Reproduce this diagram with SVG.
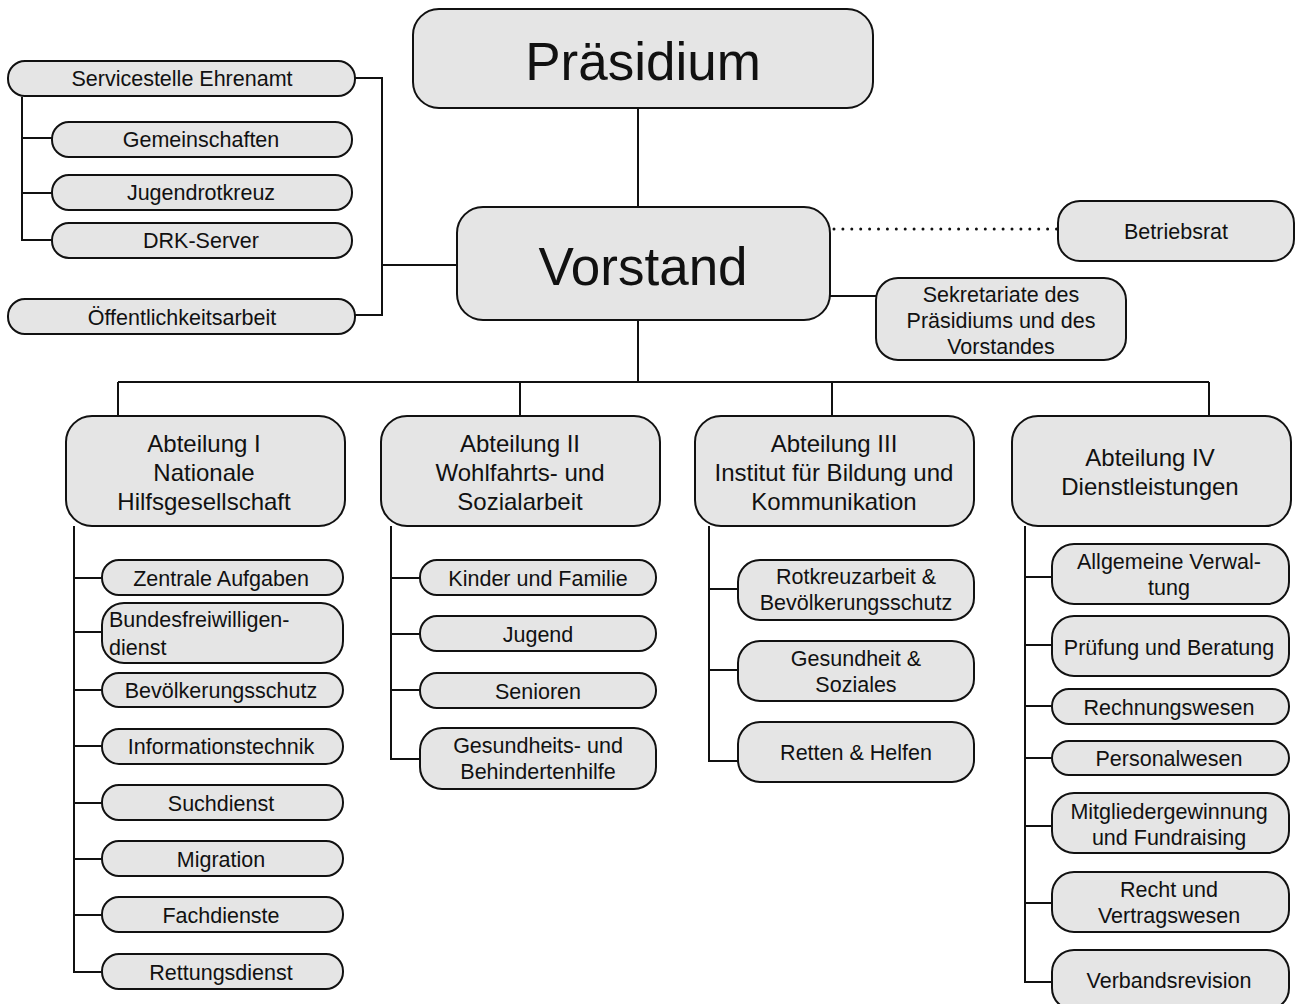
<svg xmlns="http://www.w3.org/2000/svg" width="1295" height="1004" viewBox="0 0 1295 1004">
<style>
.b{fill:#e5e5e5;stroke:#111;stroke-width:2}
.t{font-family:"Liberation Sans",Arial,sans-serif;font-size:21.5px;fill:#111;text-anchor:middle}
.m{font-size:24px}
.h{font-size:53px}
.c{fill:none;stroke:#111;stroke-width:2}
.d{fill:none;stroke:#111;stroke-width:3;stroke-dasharray:0 8.9;stroke-linecap:round}
</style>
<rect width="1295" height="1004" fill="#fff"/>
<g id="connectors">
<path class="c" d="M638 108V207M638 320V382M118 382H1209M118 382V416M520 382V416M832 382V416M1209 382V416"/>
<path class="d" d="M834 229H1058"/>
<path class="c" d="M830 296H876"/>
<path class="c" d="M355 78H382V315H355M382 265H457"/>
<path class="c" d="M22 97V240H52M22 138H52M22 193H52"/>
<path class="c" d="M74 526V972H102M74 578H102M74 632H102M74 690H102M74 746H102M74 803H102M74 859H102M74 915H102"/>
<path class="c" d="M391 526V759H420M391 578H420M391 634H420M391 690H420"/>
<path class="c" d="M709 526V761H738M709 589H738M709 670H738"/>
<path class="c" d="M1025 526V982H1052M1025 577H1052M1025 645H1052M1025 706H1052M1025 758H1052M1025 826H1052M1025 903H1052"/>
</g>
<g id="praesidium"><rect class="b" x="413" y="9" width="460" height="99" rx="26"/><text class="t h" x="643" y="80">Präsidium</text></g>
<g id="vorstand"><rect class="b" x="457" y="207" width="373" height="113" rx="26"/><text class="t h" x="643" y="285">Vorstand</text></g>
<g id="betriebsrat"><rect class="b" x="1058" y="201" width="236" height="60" rx="22"/><text class="t" x="1176" y="239">Betriebsrat</text></g>
<g id="sekretariate"><rect class="b" x="876" y="278" width="250" height="82" rx="22"/><text class="t" x="1001" y="302">Sekretariate des</text><text class="t" x="1001" y="328">Präsidiums und des</text><text class="t" x="1001" y="354">Vorstandes</text></g>
<g id="servicestelle"><rect class="b" x="8" y="61" width="347" height="35" rx="17"/><text class="t" x="182" y="86">Servicestelle Ehrenamt</text></g>
<g id="gemeinschaften"><rect class="b" x="52" y="122" width="300" height="35" rx="17"/><text class="t" x="201" y="147">Gemeinschaften</text></g>
<g id="jugendrotkreuz"><rect class="b" x="52" y="175" width="300" height="35" rx="17"/><text class="t" x="201" y="200">Jugendrotkreuz</text></g>
<g id="drkserver"><rect class="b" x="52" y="223" width="300" height="35" rx="17"/><text class="t" x="201" y="248">DRK-Server</text></g>
<g id="oeffentlichkeitsarbeit"><rect class="b" x="8" y="299" width="347" height="35" rx="17"/><text class="t" x="182" y="325">Öffentlichkeitsarbeit</text></g>
<g id="abt1"><rect class="b" x="66" y="416" width="279" height="110" rx="26"/><text class="t m" x="204" y="452">Abteilung I</text><text class="t m" x="204" y="481">Nationale</text><text class="t m" x="204" y="510">Hilfsgesellschaft</text></g>
<g id="abt2"><rect class="b" x="381" y="416" width="279" height="110" rx="26"/><text class="t m" x="520" y="452">Abteilung II</text><text class="t m" x="520" y="481">Wohlfahrts- und</text><text class="t m" x="520" y="510">Sozialarbeit</text></g>
<g id="abt3"><rect class="b" x="695" y="416" width="279" height="110" rx="26"/><text class="t m" x="834" y="452">Abteilung III</text><text class="t m" x="834" y="481">Institut für Bildung und</text><text class="t m" x="834" y="510">Kommunikation</text></g>
<g id="abt4"><rect class="b" x="1012" y="416" width="279" height="110" rx="26"/><text class="t m" x="1150" y="466">Abteilung IV</text><text class="t m" x="1150" y="495">Dienstleistungen</text></g>
<g id="zentrale"><rect class="b" x="102" y="560" width="241" height="35" rx="17"/><text class="t" x="221" y="586">Zentrale Aufgaben</text></g>
<g id="bfd"><rect class="b" x="102" y="603" width="241" height="60" rx="22"/><text class="t" x="109" y="627" style="text-anchor:start">Bundesfreiwilligen-</text><text class="t" x="109" y="655" style="text-anchor:start">dienst</text></g>
<g id="bevoelkerungsschutz"><rect class="b" x="102" y="673" width="241" height="34" rx="17"/><text class="t" x="221" y="698">Bevölkerungsschutz</text></g>
<g id="informationstechnik"><rect class="b" x="102" y="729" width="241" height="35" rx="17"/><text class="t" x="221" y="754">Informationstechnik</text></g>
<g id="suchdienst"><rect class="b" x="102" y="785" width="241" height="35" rx="17"/><text class="t" x="221" y="811">Suchdienst</text></g>
<g id="migration"><rect class="b" x="102" y="841" width="241" height="35" rx="17"/><text class="t" x="221" y="867">Migration</text></g>
<g id="fachdienste"><rect class="b" x="102" y="897" width="241" height="35" rx="17"/><text class="t" x="221" y="923">Fachdienste</text></g>
<g id="rettungsdienst"><rect class="b" x="102" y="954" width="241" height="35" rx="17"/><text class="t" x="221" y="980">Rettungsdienst</text></g>
<g id="kinder"><rect class="b" x="420" y="560" width="236" height="35" rx="17"/><text class="t" x="538" y="586">Kinder und Familie</text></g>
<g id="jugend"><rect class="b" x="420" y="616" width="236" height="35" rx="17"/><text class="t" x="538" y="642">Jugend</text></g>
<g id="senioren"><rect class="b" x="420" y="673" width="236" height="35" rx="17"/><text class="t" x="538" y="699">Senioren</text></g>
<g id="gesundheitshilfe"><rect class="b" x="420" y="728" width="236" height="61" rx="22"/><text class="t" x="538" y="753">Gesundheits- und</text><text class="t" x="538" y="779">Behindertenhilfe</text></g>
<g id="rotkreuzarbeit"><rect class="b" x="738" y="560" width="236" height="60" rx="22"/><text class="t" x="856" y="584">Rotkreuzarbeit &amp;</text><text class="t" x="856" y="610">Bevölkerungsschutz</text></g>
<g id="gesundheit"><rect class="b" x="738" y="641" width="236" height="60" rx="22"/><text class="t" x="856" y="666">Gesundheit &amp;</text><text class="t" x="856" y="692">Soziales</text></g>
<g id="retten"><rect class="b" x="738" y="722" width="236" height="60" rx="22"/><text class="t" x="856" y="760">Retten &amp; Helfen</text></g>
<g id="allgemeine"><rect class="b" x="1052" y="544" width="237" height="60" rx="22"/><text class="t" x="1169" y="569">Allgemeine Verwal-</text><text class="t" x="1169" y="595">tung</text></g>
<g id="pruefung"><rect class="b" x="1052" y="616" width="237" height="60" rx="22"/><text class="t" x="1169" y="655">Prüfung und Beratung</text></g>
<g id="rechnungswesen"><rect class="b" x="1052" y="689" width="237" height="35" rx="17"/><text class="t" x="1169" y="715">Rechnungswesen</text></g>
<g id="personalwesen"><rect class="b" x="1052" y="741" width="237" height="34" rx="17"/><text class="t" x="1169" y="766">Personalwesen</text></g>
<g id="mitglieder"><rect class="b" x="1052" y="793" width="237" height="60" rx="22"/><text class="t" x="1169" y="819">Mitgliedergewinnung</text><text class="t" x="1169" y="845">und Fundraising</text></g>
<g id="recht"><rect class="b" x="1052" y="872" width="237" height="60" rx="22"/><text class="t" x="1169" y="897">Recht und</text><text class="t" x="1169" y="923">Vertragswesen</text></g>
<g id="verbandsrevision"><rect class="b" x="1052" y="950" width="237" height="60" rx="22"/><text class="t" x="1169" y="988">Verbandsrevision</text></g>
</svg>
